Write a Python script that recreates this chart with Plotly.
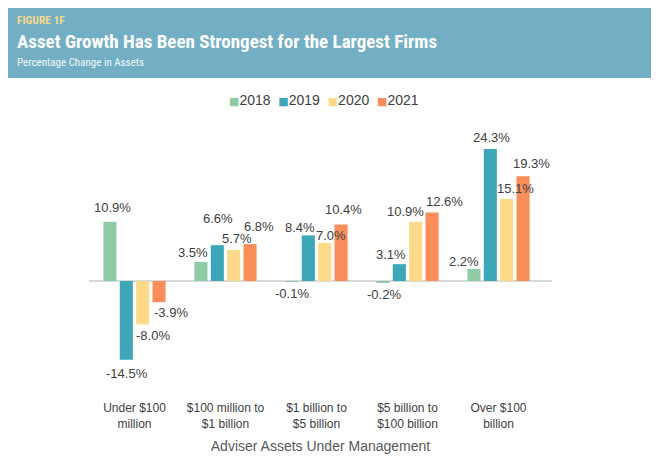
import plotly.graph_objects as go

# ---- data ----
categories = ["Under $100<br>million", "$100 million to<br>$1 billion", "$1 billion to<br>$5 billion",
              "$5 billion to<br>$100 billion", "Over $100<br>billion"]
years = ["2018", "2019", "2020", "2021"]
v2018 = [10.9, 3.5, -0.1, -0.2, 2.2]
v2019 = [-14.5, 6.6, 8.4, 3.1, 24.3]
v2020 = [-8.0, 5.7, 7.0, 10.9, 15.1]
v2021 = [-3.9, 6.8, 10.4, 12.6, 19.3]
series = [v2018, v2019, v2020, v2021]
colors = ["#8FCBA5", "#3DA7B8", "#FDD98A", "#F98E5A"]

# label nudges (px) to avoid collisions, per series per category
nudge_dx = [[3, -7, 1, 2, -9], [1, 1, -8, -8, 1], [10, 3, 6, -10, 9], [11, 8, 2, 12, 8]]
nudge_dy = [[14, 10, 12, 12, 8], [14, 27, 8, 10, 12], [11, 12, 7, 10, 11], [10, 18, 15, 11, 13]]

OFF = 8  # page body margin
W, H = 660 - OFF, 463 - OFF
PLOT_L, PLOT_R, PLOT_T, PLOT_B, ZERO = 89, 552, 100, 399, 281  # page pixel layout
ML, MR, MT, MB = PLOT_L - OFF, W - (PLOT_R - OFF), PLOT_T - OFF, H - (PLOT_B - OFF)
PW, PH = W - ML - MR, H - MT - MB
BARGAP, GROUPGAP = 0.28, 0.2
PX_PER_UNIT = 5.43

def px_x(px):
    return (px - OFF - ML) / PW

def px_y(py):
    return (H - MB - (py - OFF)) / PH

fig = go.Figure()
for name, vals, col in zip(years, series, colors):
    fig.add_trace(go.Bar(name=name, x=categories, y=vals, marker=dict(color=col, line=dict(width=0)),
                         showlegend=False))

slot = PW / len(categories) * (1 - BARGAP) / len(years)
ann = []
for i, vals in enumerate(series):
    for j, v in enumerate(vals):
        sign = 1 if v >= 0 else -1
        ann.append(dict(x=categories[j], y=v, xref="x", yref="y", text=f"{v:.1f}%",
                        showarrow=False, xanchor="center", yanchor="middle",
                        xshift=(i - 1.5) * slot + nudge_dx[i][j], yshift=sign * nudge_dy[i][j],
                        font=dict(family="Liberation Sans, Arial", size=13, color="#404040")))

# legend (centered row of coloured squares + year labels)
legend_text = "  ".join(
    f"<span style='color:{c};font-family:DejaVu Sans;font-size:11px'>■</span>{y}" for y, c in zip(years, colors))
ann.append(dict(xref="paper", yref="paper", x=px_x(324), y=px_y(100), text=legend_text,
                showarrow=False, xanchor="center", yanchor="middle",
                font=dict(family="Liberation Sans, Arial", size=14, color="#404040")))

# header texts
hfont = "Roboto Condensed, DejaVu Sans Condensed, Roboto"
ann.append(dict(xref="paper", yref="paper", x=px_x(15), y=px_y(20), text="<b>FIGURE 1F</b>",
                showarrow=False, xanchor="left", yanchor="middle",
                font=dict(family=hfont, size=11.5, color="#F3D98C")))
ann.append(dict(xref="paper", yref="paper", x=px_x(15), y=px_y(41.5),
                text="<b>Asset Growth Has Been Strongest for the Largest Firms</b>",
                showarrow=False, xanchor="left", yanchor="middle",
                font=dict(family=hfont, size=19, color="#FFFFFF")))
ann.append(dict(xref="paper", yref="paper", x=px_x(15), y=px_y(62), text="Percentage Change in Assets",
                showarrow=False, xanchor="left", yanchor="middle",
                font=dict(family=hfont, size=11, color="#F2F7F9")))

fig.update_layout(
    width=W, height=H,
    margin=dict(l=ML, r=MR, t=MT, b=MB),
    paper_bgcolor="white", plot_bgcolor="white",
    barmode="group", bargap=BARGAP, bargroupgap=GROUPGAP,
    font=dict(family="Liberation Sans, Arial", color="#404040"),
    showlegend=False,
    annotations=ann,
    shapes=[dict(type="rect", xref="paper", yref="paper", x0=px_x(7), x1=px_x(651),
                 y0=px_y(78), y1=px_y(4), fillcolor="#72AFC4", line=dict(width=0), layer="below")],
    xaxis=dict(showgrid=False, showline=False, ticks="", tickfont=dict(size=12, color="#404040"),
               title=dict(text="Adviser Assets Under Management", font=dict(size=14, color="#595959"), standoff=11)),
    yaxis=dict(range=[-(PLOT_B - ZERO) / PX_PER_UNIT, (ZERO - PLOT_T) / PX_PER_UNIT], showgrid=False,
               showticklabels=False, zeroline=True, zerolinecolor="#D9D9D9", zerolinewidth=1.5, fixedrange=True),
)

fig.write_html("out.html")
